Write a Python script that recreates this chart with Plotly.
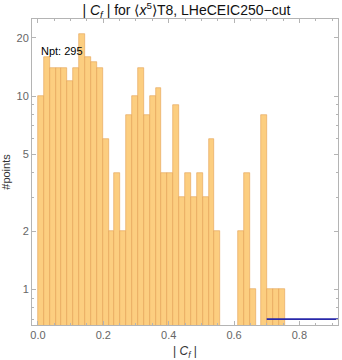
import math
import plotly.graph_objects as go

bin_start = 0.0
bin_width = 0.018
counts = [10, 16, 14, 14, 14, 12, 14, 21, 16, 15, 14, 6, 2, 4, 2, 8, 10, 14, 8, 10,
          11, 4, 4, 9, 3, 4, 3, 4, 3, 6, 2, 0, 0, 0, 2, 4, 1, 0, 8, 1, 1, 1]
centers = [bin_start + bin_width * (i + 0.5) for i in range(len(counts))]
yvals = [c if c > 0 else None for c in counts]

x_ticks = [0.0, 0.2, 0.4, 0.6, 0.8]
x_tick_text = ["0.0", "0.2", "0.4", "0.6", "0.8"]
y_ticks = [1, 2, 5, 10, 20]
y_minor = [0.7, 0.8, 0.9, 3, 4, 6, 7, 8, 9, 30]
blue_x = [0.7, 0.95]
blue_y = [0.7, 0.7]
npt_text = "Npt: 295"
npt_pos = (0.073, 17.2)

fig = go.Figure()
fig.add_trace(go.Bar(
    x=centers, y=yvals, width=bin_width,
    marker=dict(color="rgb(252,206,128)", line=dict(color="rgb(228,160,80)", width=0.6)),
    showlegend=False,
))
fig.add_trace(go.Scatter(
    x=blue_x, y=blue_y, mode="lines",
    line=dict(color="rgb(40,40,170)", width=1.6), showlegend=False,
))

axis_common = dict(
    showline=True, linecolor="#b4b4b4", linewidth=1, mirror="ticks",
    ticks="inside", tickcolor="#b4b4b4", ticklen=4,
    showgrid=False, zeroline=False,
    tickfont=dict(family="Liberation Sans, Arial", size=11, color="#666666"),
)

fig.update_layout(
    width=342, height=360,
    margin=dict(l=30, r=3, t=19, b=31),
    plot_bgcolor="white", paper_bgcolor="white",
    bargap=0,
    title=dict(
        text="| <i>C<sub>f</sub></i> | for ⟨<i>x</i><sup>5</sup>⟩T8, LHeCEIC250−cut",
        x=0.545, xanchor="center", y=0.972, yanchor="middle",
        font=dict(family="Liberation Sans, Arial", size=14, color="#111111"),
    ),
    xaxis=dict(
        range=[-0.0182, 0.9182],
        tickvals=x_ticks, ticktext=x_tick_text,
        minor=dict(tickvals=[0.05, 0.1, 0.15, 0.25, 0.3, 0.35, 0.45, 0.5, 0.55,
                             0.65, 0.7, 0.75, 0.85, 0.9],
                   ticks="inside", ticklen=2, tickcolor="#b4b4b4"),
        title=dict(text="| <i>C<sub>f</sub></i> |",
                   font=dict(family="Liberation Sans, Arial", size=12, color="#333333"),
                   standoff=7),
        **axis_common,
    ),
    yaxis=dict(
        type="log", range=[-0.1855, 1.3986],
        tickvals=y_ticks, ticktext=[str(v) for v in y_ticks],
        minor=dict(tickvals=y_minor, ticks="inside", ticklen=2, tickcolor="#b4b4b4"),
        title=dict(text="#points",
                   font=dict(family="Liberation Sans, Arial", size=11, color="#333333"),
                   standoff=6),
        **axis_common,
    ),
    annotations=[dict(
        x=npt_pos[0], y=math.log10(npt_pos[1]), xref="x", yref="y", text=npt_text,
        showarrow=False,
        font=dict(family="Liberation Sans, Arial", size=11, color="black"),
        xanchor="center", yanchor="middle",
    )],
)

fig.write_html("out.html")
